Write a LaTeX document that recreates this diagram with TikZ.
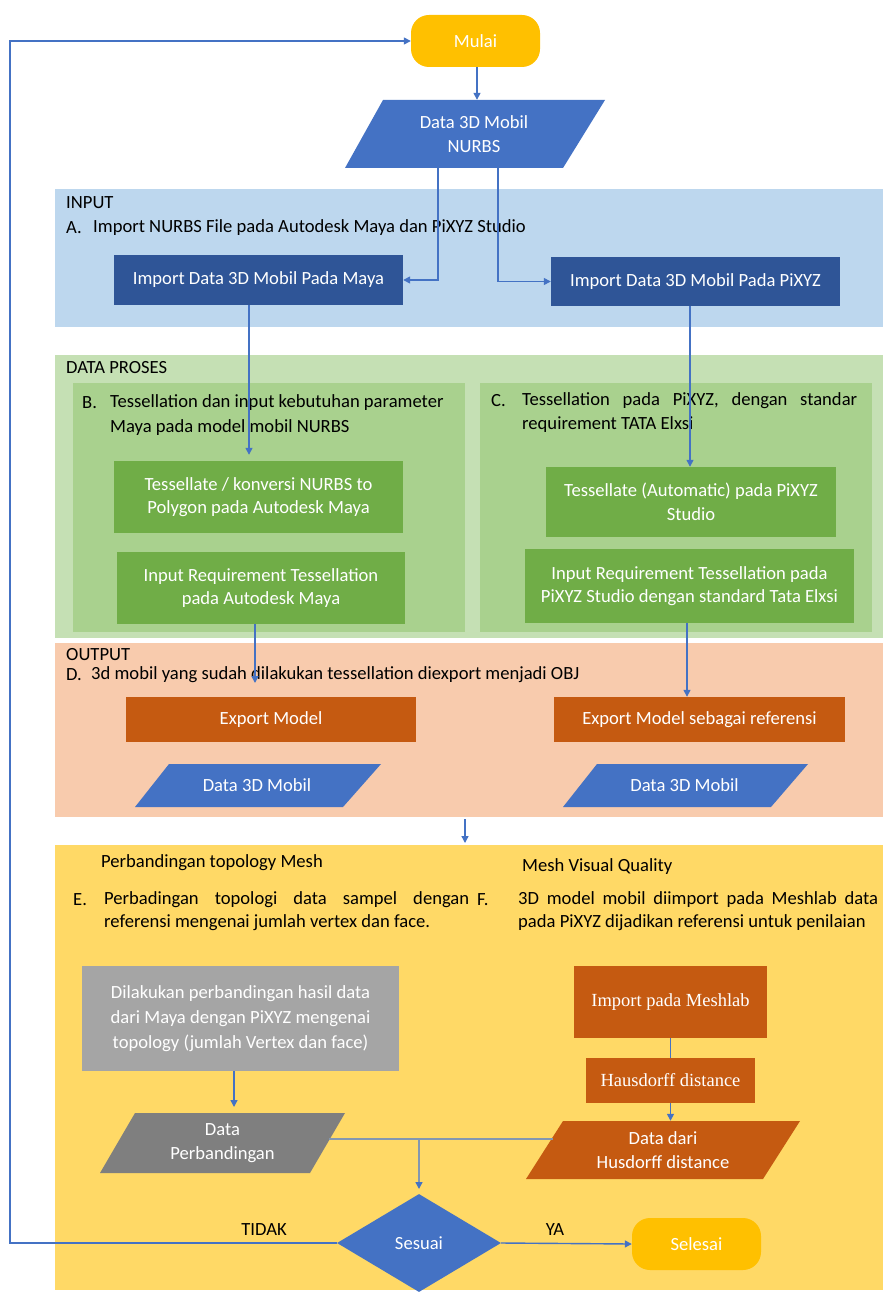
\documentclass[tikz,border=0pt]{standalone}
\usepackage{fontspec}
\setmainfont{Carlito}
\newfontfamily\serifx{Liberation Serif}
\usetikzlibrary{shapes.geometric,arrows.meta}
\definecolor{cBlue}{HTML}{4472C4}
\definecolor{cLine}{HTML}{8497B0}
\definecolor{cDark}{HTML}{2F5597}
\definecolor{cGreen}{HTML}{70AD47}
\definecolor{cOrange}{HTML}{C55A11}
\definecolor{cGold}{HTML}{FFC000}
\definecolor{cGray}{HTML}{A5A5A5}
\definecolor{cDGray}{HTML}{7F7F7F}
\definecolor{bIn}{HTML}{BDD7EE}
\definecolor{bProc}{HTML}{C5E0B4}
\definecolor{bPanel}{HTML}{A9D18E}
\definecolor{bOut}{HTML}{F8CBAD}
\definecolor{bYel}{HTML}{FFD966}
\tikzset{
  fnt/.style={font=\fontsize{18.6}{23.5}\selectfont},
  lbl/.style={fnt, anchor=west, inner sep=0pt, text=black},
  boxx/.style={fnt, rectangle, inner sep=0pt, text=white, align=center},
  para/.style={fnt, rectangle, inner sep=0pt, text=white, align=center},
  term/.style={fnt, rectangle, rounded corners=18pt, fill=cGold, text=white, minimum width=129pt, minimum height=52pt, inner sep=0pt},
  conn/.style={draw=cBlue, line width=1.4pt},
  arr/.style={conn, -{Triangle[length=7pt,width=7pt]}},
  gconn/.style={draw=cLine, line width=1.4pt},
  garr/.style={gconn, -{Triangle[length=7pt,width=7pt,color=cBlue]}},
}
\begin{document}
\begin{tikzpicture}[x=1pt,y=-1pt]
\useasboundingbox (0,0) rectangle (883,1297);
\fill[white] (0,0) rectangle (883,1297);
% bands
\fill[bIn] (55,189) rectangle (883,327);
\fill[bProc] (55,355) rectangle (883,638);
\fill[bPanel] (73,383) rectangle (465,632);
\fill[bPanel] (480,383) rectangle (872,632);
\fill[bOut] (55,643) rectangle (883,817);
\fill[bYel] (55,845) rectangle (883,1290);

% band texts
\node[lbl] (tIn) at (66,203) {INPUT};
\node[lbl] (tA) at (66,228) {A.};
\node[lbl] (tAx) at (93,228) {Import NURBS File pada Autodesk Maya dan PiXYZ Studio};
\node[lbl] (tProc) at (66,368) {DATA PROSES};
\node[lbl] (tB) at (82,403) {B.};
\node[lbl] (tB1) at (110,403) {Tessellation dan input kebutuhan parameter};
\node[lbl] (tB2) at (110,428) {Maya pada model mobil NURBS};
\node[lbl] (tC) at (491,401) {C.};
\node[lbl] (tC1) at (522,401) {\makebox[335pt][s]{Tessellation pada PiXYZ, dengan standar}};
\node[lbl] (tC2) at (522,425) {requirement TATA Elxsi};
\node[lbl] (tOut) at (66,655) {OUTPUT};
\node[lbl] (tD) at (66,675) {D.};
\node[lbl] (tDx) at (91,675) {3d mobil yang sudah dilakukan tessellation diexport menjadi OBJ};
\node[lbl] (tE0) at (101,863) {Perbandingan topology Mesh};
\node[lbl] (tF0) at (522,867) {Mesh Visual Quality};
\node[lbl] (tE) at (73,900) {E.};
\node[lbl] (tE1) at (104,900) {\makebox[365pt][s]{Perbadingan topologi data sampel dengan}};
\node[lbl] (tE2) at (104,923) {referensi mengenai jumlah vertex dan face.};
\node[lbl] (tF) at (477,900) {F.};
\node[lbl] (tF1) at (518,900) {\makebox[360pt][s]{3D model mobil diimport pada Meshlab data}};
\node[lbl] (tF2) at (518,923) {pada PiXYZ dijadikan referensi untuk penilaian};

% terminals
\node[term] (mulai) at (475.5,41) {Mulai};
\node[term] (selesai) at (696.5,1244) {Selesai};

% parallelograms
\fill[cBlue] (383,100) -- (605,100) -- (563,168) -- (345,168) -- cycle;
\node[para, minimum width=220pt, minimum height=68pt] (nurbs) at (474,134) {Data 3D Mobil\\NURBS};
\fill[cBlue] (169,764) -- (381,764) -- (343,807) -- (135,807) -- cycle;
\node[para, minimum width=210pt, minimum height=43pt] (dM) at (257,785.5) {Data 3D Mobil};
\fill[cBlue] (597,764) -- (808,764) -- (771,807) -- (563,807) -- cycle;
\node[para, minimum width=210pt, minimum height=43pt] (dP) at (684.5,785.5) {Data 3D Mobil};
\fill[cDGray] (135,1113) -- (345,1113) -- (310,1173) -- (100,1173) -- cycle;
\node[para, minimum width=210pt, minimum height=60pt] (perb) at (222.5,1143) {Data\\Perbandingan};
\fill[cOrange] (563,1121) -- (800,1121) -- (763,1179) -- (526,1179) -- cycle;
\node[para, minimum width=237pt, minimum height=58pt] (husd) at (663,1150) {Data dari\\Husdorff distance};

% boxes
\node[boxx, fill=cDark, minimum width=289pt, minimum height=50pt] (impM) at (258.5,280) {Import Data 3D Mobil Pada Maya};
\node[boxx, fill=cDark, minimum width=289pt, minimum height=49pt] (impP) at (695.5,281.5) {Import Data 3D Mobil Pada PiXYZ};
\node[boxx, fill=cGreen, minimum width=289pt, minimum height=72pt] (tessM) at (258.5,497) {Tessellate / konversi NURBS to\\Polygon pada Autodesk Maya};
\node[boxx, fill=cGreen, minimum width=288pt, minimum height=72pt] (reqM) at (261,588) {Input Requirement Tessellation\\pada Autodesk Maya};
\node[boxx, fill=cGreen, minimum width=290pt, minimum height=70pt] (tessP) at (691,502) {Tessellate (Automatic) pada PiXYZ\\Studio};
\node[boxx, fill=cGreen, minimum width=329pt, minimum height=74pt] (reqP) at (689.5,586) {Input Requirement Tessellation pada\\PiXYZ Studio dengan standard Tata Elxsi};
\node[boxx, fill=cOrange, minimum width=290pt, minimum height=45pt] (expM) at (271,719.5) {Export Model};
\node[boxx, fill=cOrange, minimum width=291pt, minimum height=45pt] (expP) at (699.5,719.5) {Export Model sebagai referensi};
\node[boxx, fill=cGray, minimum width=317pt, minimum height=105pt, font=\fontsize{18.6}{25}\selectfont] (gray) at (240.5,1018.5) {Dilakukan perbandingan hasil data\\dari Maya dengan PiXYZ mengenai\\topology (jumlah Vertex dan face)};
\node[boxx, fill=cOrange, minimum width=193pt, minimum height=72pt, font=\serifx\fontsize{18.5}{21}\selectfont] (meshlab) at (670.5,1002) {Import pada Meshlab};
\node[boxx, fill=cOrange, minimum width=169pt, minimum height=45pt, font=\serifx\fontsize{18.5}{21}\selectfont] (haus) at (670.5,1080.5) {Hausdorff distance};

% decision
\node[diamond, fill=cBlue, text=white, fnt, minimum width=164pt, minimum height=98pt, inner sep=0pt] (diam) at (419,1243) {Sesuai};

% labels
\node[fnt, inner sep=0pt] (lT) at (264,1230) {TIDAK};
\node[fnt, inner sep=0pt] (lY) at (555,1230) {YA};

% coordinates
\coordinate (lp) at (10,0);
\coordinate (f1) at (465,819);
\coordinate (f2) at (465,843);
\coordinate (d1) at (0,683);
\coordinate (d2) at (0,1107);
\coordinate (pl) at (329,1139);
\coordinate (hl) at (553,1139);
\coordinate (dt) at (0,1189);

% connectors
\draw[arr] ([xshift=1.5pt]mulai.south) -- ([xshift=1.5pt]mulai.south |- nurbs.north);
\draw[arr] ([xshift=-36pt]nurbs.south) |- (impM.east);
\draw[arr] ([xshift=24pt]nurbs.south) |- (impP.west);
\draw[arr] ([xshift=-9.5pt]impM.south) -- ([xshift=-9.5pt,yshift=6pt]tessM.north);
\draw[arr] ([xshift=-5.5pt]impP.south) -- ([xshift=-5.5pt]impP.south |- tessP.north);
\draw[arr] ([xshift=-6pt]reqM.south) -- ([xshift=-6pt]reqM.south |- d1);
\draw[arr] ([xshift=-2.5pt]reqP.south) -- ([xshift=-2.5pt]reqP.south |- expP.north);
\draw[arr] (f1) -- (f2);
\draw[arr] ([xshift=-6.5pt]gray.south) -- ([xshift=-6.5pt]gray.south |- d2);
\draw[conn] (meshlab) -- (haus);
\draw[arr] (haus.south) -- (haus.south |- husd.north);
\draw[garr] (pl) -| (diam.north |- dt);
\draw[gconn] (hl) -- (hl -| diam.north);
\draw[arr] (diam.west) -- (diam.west -| lp) |- (mulai.west);
\draw[arr] (diam.east) -- (selesai.west);
\end{tikzpicture}
\end{document}
